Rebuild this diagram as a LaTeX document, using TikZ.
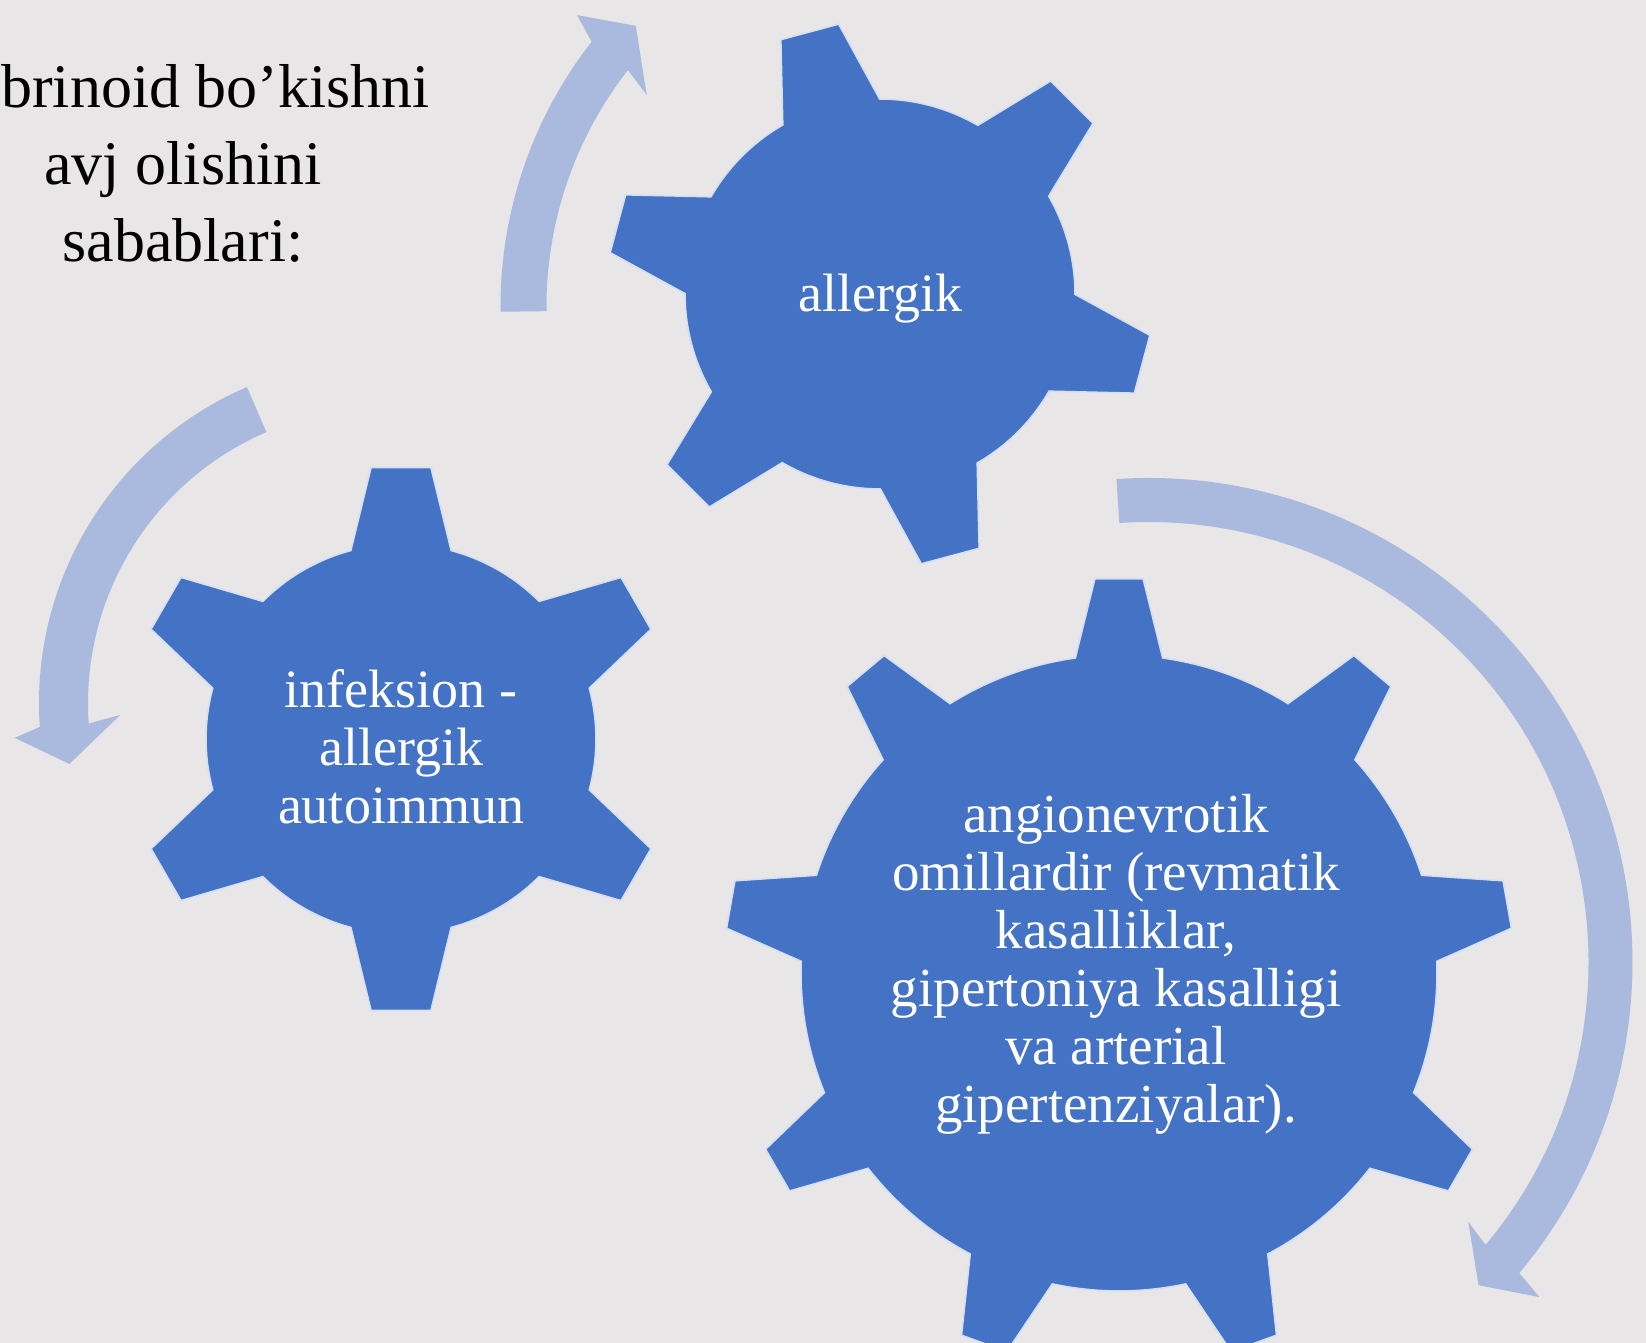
\documentclass[tikz,border=0pt]{standalone}
\usepackage{fontspec}
\setmainfont{Liberation Serif}
\definecolor{bgc}{RGB}{232,230,230}
\definecolor{gearblue}{RGB}{68,114,196}
\definecolor{gearedge}{RGB}{214,224,244}
\definecolor{arrowblue}{RGB}{170,185,222}
\tikzset{
  gearstyle/.style={fill=gearblue, draw=gearedge, line width=1.6pt, line join=miter},
  arrowstyle/.style={fill=arrowblue},
  geartext/.style={text=white, align=center, inner sep=0pt, font=\fontsize{54}{58}\selectfont},
  bigtext/.style={geartext, font=\fontsize{55}{58}\selectfont},
  titletext/.style={text=black, align=center, inner sep=0pt, font=\fontsize{62}{77}\selectfont},
}
% #1 cx, #2 cy, #3 teeth, #4 first tooth angle, #5 body radius, #6 base half angle, #7 tip radius, #8 tip half angle
\newcommand\mygear[8]{%
  \begin{scope}[shift={(#1,#2)}]
    \filldraw[gearstyle] ({#4-#6}:#5)
      \foreach \k [evaluate=\k as \t using {#4+(\k-1)*360/#3}] in {1,...,#3}{
        -- ({\t-#8}:#7) -- ({\t+#8}:#7) -- ({\t+#6}:#5)
        arc[start angle={\t+#6}, end angle={\t+360/#3-#6}, radius=#5]
      } -- cycle;
  \end{scope}}
% used inside a shifted scope:
% #1 rin, #2 rout, #3 tail angle, #4 body end angle, #5 tip angle,
% #6 inner wing r, #7 inner wing angle, #8 outer wing r, #9 outer wing angle
\newcommand\myarrow[9]{%
    \fill[arrowstyle] ({#3}:#2) arc[start angle=#3, end angle=#4, radius=#2]
      -- ({#9}:#8) -- ({#5}:{(#1+#2)/2}) -- ({#7}:#6) -- ({#4}:#1)
      arc[start angle=#4, end angle=#3, radius=#1] -- cycle;}
\begin{document}
\begin{tikzpicture}[x=1pt,y=1pt]
\useasboundingbox (0,0) rectangle (1646,1343);
\clip (0,0) rectangle (1646,1343);
\fill[bgc] (0,0) rectangle (1646,1343);

% circular arrows
\begin{scope}[shift={(930.5,1036.5)}]
  \myarrow{384}{430}{180.7}{142}{136.4}{354}{143.3}{458}{140.5}
\end{scope}
\begin{scope}[shift={(383,640)}]
  \myarrow{295}{344}{113.3}{184}{191}{263}{182.6}{370}{185.4}
\end{scope}
\begin{scope}[shift={(1148.5,381)}]
  \myarrow{440}{484}{93.8}{-40}{-44.4}{412}{-39.1}{515}{-40.6}
\end{scope}

% gears
\mygear{880}{1049}{6}{105}{195}{14.9}{273}{6.3}
\mygear{401}{604}{6}{90}{195}{14.9}{273}{6.3}
\mygear{1119}{370}{9}{90}{318}{7.9}{395}{3.5}

% texts
\node[geartext] (g1) at (880,1044) {allergik};
\node[geartext] (g2) at (401,596) {infeksion -\\allergik\\autoimmun};
\node[bigtext] (g3) at (1116,378.5) {angionevrotik\\omillardir (revmatik\\kasalliklar,\\gipertoniya kasalligi\\va arterial\\gipertenziyalar).};

\node[titletext, anchor=base west] (t1) at (1,1235) {brinoid bo’kishni};
\node[titletext, anchor=base] (t2) at (183,1081) {avj olishini\\sabablari:};
\end{tikzpicture}
\end{document}
